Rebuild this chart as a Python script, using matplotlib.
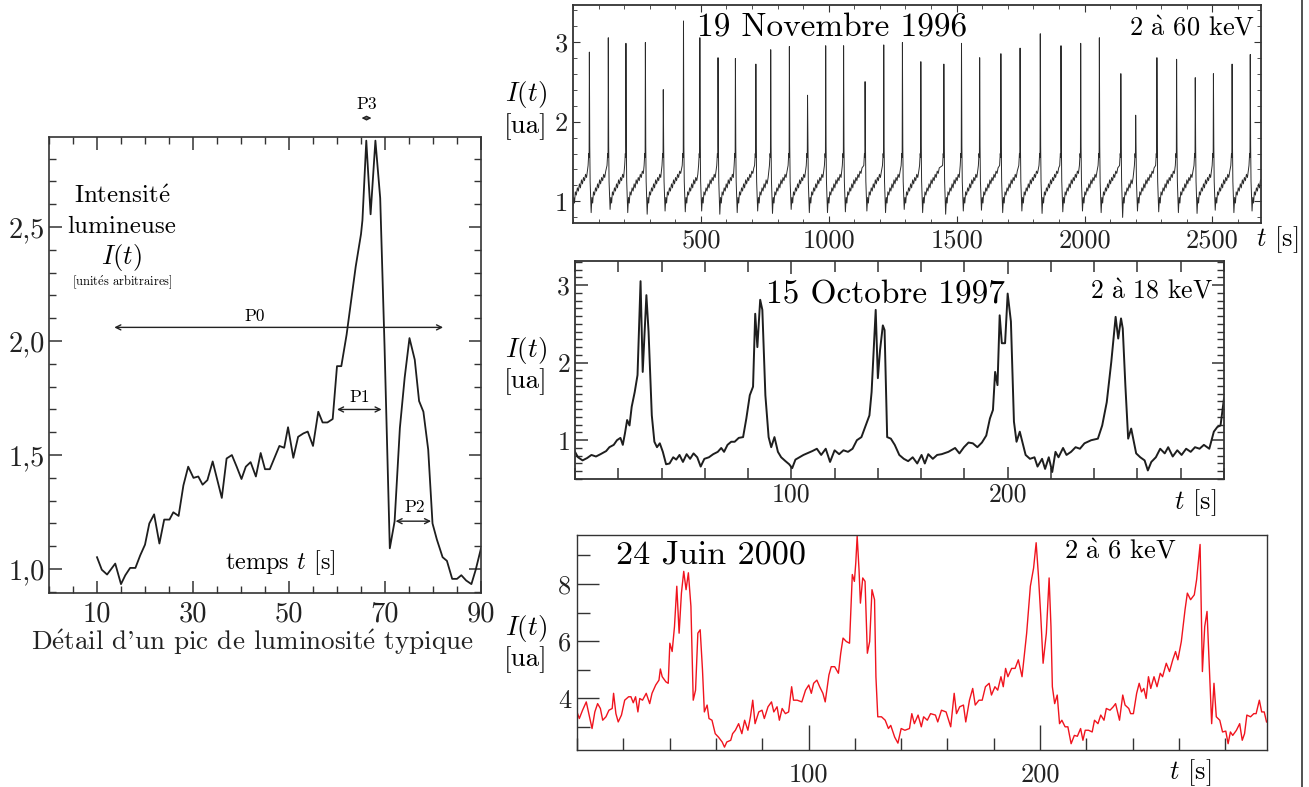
import numpy as np
import matplotlib.pyplot as plt
from matplotlib.ticker import MultipleLocator

plt.rcParams['font.family'] = ['cmr10', 'DejaVu Serif']
plt.rcParams['mathtext.fontset'] = 'cm'
plt.rcParams['axes.unicode_minus'] = False

# --- detail of a typical peak (left panel)
left_t = [10, 11, 12.1, 13.8, 15, 15.9, 16.9, 18, 19, 20, 20.9, 21.9, 23, 24, 25.1, 25.9,
          27, 28, 29, 30.1, 31.1, 32, 33, 34.1, 36, 37, 38.1, 39.1, 40.1, 41, 42, 43.1,
          44.1, 45, 46, 48, 49, 49.8, 50.9, 51.9, 53, 53.9, 55, 56.1, 57, 58, 59.1, 60,
          60.9, 62, 63, 63.9, 65, 65.3, 66.1, 67, 68, 69, 69.9, 71, 72, 73.1, 74.1, 75.1,
          76.2, 77.1, 78, 79, 79.9, 80.8, 82, 82.9, 84, 85, 85.9, 86.9, 88, 88.9, 90]
left_v = [1.052, 0.997, 0.976, 1.024, 0.934, 0.973, 1.005, 1.005, 1.06, 1.107, 1.20, 1.24,
          1.112, 1.217, 1.217, 1.249, 1.233, 1.367, 1.449, 1.40, 1.406, 1.37, 1.39, 1.472,
          1.312, 1.485, 1.50, 1.449, 1.395, 1.449, 1.469, 1.406, 1.509, 1.438, 1.438, 1.54,
          1.532, 1.622, 1.488, 1.58, 1.595, 1.603, 1.54, 1.69, 1.643, 1.643, 1.658, 1.89,
          1.89, 2.028, 2.186, 2.327, 2.469, 2.53, 2.879, 2.556, 2.879, 2.627, 1.98, 1.091,
          1.209, 1.619, 1.84, 2.013, 1.918, 1.737, 1.69, 1.524, 1.20, 1.13, 1.052, 1.036,
          0.957, 0.957, 0.973, 0.95, 0.934, 0.997, 1.091]

# --- 19 Novembre 1996 (one peak per cycle)
nov_peak_t = [64, 138, 207, 283, 353, 432, 496, 567, 635, 715, 773, 846, 917, 988, 1058,
              1142, 1215, 1288, 1360, 1450, 1519, 1590, 1673, 1748, 1827, 1908, 1985, 2058,
              2142, 2200, 2283, 2360, 2433, 2504, 2577, 2648]
nov_peak_v = [2.87, 3.05, 2.98, 2.99, 2.40, 3.26, 3.05, 2.80, 2.79, 2.72, 2.90, 2.94, 2.33,
              2.95, 2.95, 2.50, 2.96, 2.99, 2.75, 2.72, 2.98, 2.80, 2.85, 2.92, 3.10, 2.95,
              2.98, 3.05, 2.60, 2.08, 2.80, 2.78, 2.55, 2.60, 2.72, 2.84]
nov_trough_v = [0.86, 0.90, 0.86, 0.84, 0.88, 0.87, 0.88, 0.84, 0.86, 0.88, 0.85, 0.90,
                0.86, 0.86, 0.87, 0.88, 0.86, 0.90, 0.86, 0.84, 0.88, 0.89, 0.86, 0.88,
                0.85, 0.87, 0.88, 0.86, 0.80, 0.88, 0.87, 0.86, 0.85, 0.89, 0.86, 0.88]
# typical rise after a trough: seconds after the trough, level
rise_dt = [3, 6, 9, 13, 17, 21, 25, 29, 33, 37, 41, 45, 49, 53, 57, 61, 65]
rise_v = [1.05, 0.98, 1.12, 1.08, 1.17, 1.13, 1.22, 1.17, 1.27, 1.22, 1.30, 1.26, 1.34,
          1.30, 1.38, 1.35, 1.42]
pre_peak_v = [1.45, 1.60, 1.55]

# --- 15 Octobre 1997
oct_t = [0.0, 1.4, 3.5, 5.6, 7.6, 9.7, 11.8, 14.4, 15.9, 17.9, 19.4, 21.0, 22.1, 23.1, 24.1,
         25.2, 26.2, 27.6, 28.9, 30.3, 31.3, 33.0, 34.0, 35.5, 36.7, 37.9, 39.2, 40.6, 42.1,
         43.7, 45.4, 46.8, 48.3, 49.9, 51.6, 53.2, 54.8, 56.5, 58.1, 59.8, 61.9, 63.9, 66.0,
         67.6, 68.9, 70.5, 72.2, 73.8, 75.7, 77.7, 79.2, 80.8, 82.3, 83.3, 84.3, 85.6, 86.6,
         88.0, 89.5, 90.7, 92.2, 93.8, 95.3, 97.3, 99.0, 100.4, 101.9, 105.6, 109.7, 111.8,
         113.8, 115.9, 117.9, 120.0, 122.1, 124.1, 126.2, 128.3, 130.3, 132.4, 134.0, 136.1,
         137.1, 139.0, 140.0, 141.0, 142.3, 143.1, 144.3, 146.0, 147.8, 149.9, 152.0, 154.0,
         156.1, 158.2, 160.2, 161.7, 163.3, 165.4, 167.4, 169.5, 172.6, 175.7, 177.7, 179.8,
         181.9, 183.9, 186.0, 188.1, 190.1, 191.8, 193.2, 194.2, 195.3, 196.3, 197.3, 198.8,
         200.0, 201.5, 202.9, 204.1, 205.6, 206.6, 208.3, 210.3, 212.4, 213.8, 215.9, 217.3,
         219.0, 220.6, 222.1, 223.5, 225.6, 227.2, 229.3, 231.4, 233.4, 235.5, 238.6, 241.7,
         243.7, 245.8, 247.9, 249.9, 251.1, 252.4, 253.2, 254.4, 255.7, 257.1, 259.4, 261.3,
         263.3, 264.8, 266.4, 268.5, 270.5, 272.6, 274.2, 276.3, 278.4, 280.4, 282.5, 284.6,
         286.6, 288.7, 290.7, 293.2, 295.3, 296.9, 298.4, 300.0]
oct_v = [0.85, 0.78, 0.74, 0.77, 0.81, 0.79, 0.82, 0.86, 0.91, 0.94, 1.00, 1.03, 0.94, 1.09,
         1.26, 1.19, 1.43, 1.62, 1.84, 3.05, 1.88, 2.87, 2.40, 1.32, 0.98, 0.91, 0.96, 0.85,
         0.69, 0.70, 0.78, 0.75, 0.81, 0.72, 0.82, 0.76, 0.83, 0.78, 0.66, 0.76, 0.78, 0.82,
         0.85, 0.90, 0.85, 0.94, 0.98, 0.98, 1.03, 1.04, 1.28, 1.58, 1.69, 2.63, 2.20, 2.81,
         2.68, 1.58, 1.04, 0.91, 1.04, 0.85, 0.78, 0.73, 0.69, 0.64, 0.75, 0.81, 0.86, 0.89,
         0.81, 0.89, 0.72, 0.87, 0.82, 0.87, 0.85, 0.89, 1.00, 1.04, 1.16, 1.32, 1.62, 2.68,
         1.80, 2.16, 2.48, 2.42, 1.04, 1.02, 0.94, 0.81, 0.76, 0.73, 0.78, 0.70, 0.81, 0.70,
         0.82, 0.76, 0.81, 0.82, 0.85, 0.90, 0.83, 0.91, 0.97, 0.96, 0.91, 0.97, 1.06, 1.28,
         1.39, 1.88, 1.71, 2.61, 2.25, 2.25, 2.89, 2.53, 1.24, 0.98, 1.11, 1.00, 0.81, 0.76,
         0.78, 0.66, 0.76, 0.63, 0.78, 0.59, 0.85, 0.78, 0.90, 0.81, 0.85, 0.91, 0.89, 0.96,
         1.00, 1.02, 1.19, 1.49, 2.01, 2.59, 2.31, 2.57, 2.44, 1.71, 1.02, 1.15, 0.83, 0.78,
         0.74, 0.61, 0.72, 0.78, 0.89, 0.83, 0.91, 0.79, 0.87, 0.81, 0.89, 0.85, 0.91, 0.89,
         0.94, 0.89, 1.11, 1.17, 1.19, 1.54]

# --- 24 Juin 2000
jun_t = [0, 1.0, 2.4, 4.0, 5.7, 6.5, 7.7, 8.9, 10.1, 11.1, 12.5, 13.8, 15.2, 15.8, 16.8, 17.8,
         19.2, 20.6, 22.3, 23.3, 24.3, 25.3, 26.3, 27.1, 28.3, 29.9, 31.4, 32.4, 34.0, 35.4,
         36.0, 36.8, 38.4, 39.4, 40.1, 41.1, 42.1, 43.1, 44.1, 45.1, 46.1, 47.1, 48.1, 49.2,
         50.2, 51.2, 52.2, 53.2, 54.2, 55.0, 56.2, 57.0, 58.3, 59.7, 61.1, 62.7, 63.7, 64.7,
         66.4, 67.2, 68.4, 69.8, 71.2, 72.4, 73.8, 74.9, 75.9, 76.9, 78.5, 79.9, 80.9, 82.5,
         84.0, 85.0, 86.4, 87.4, 88.6, 90.0, 91.4, 92.7, 93.5, 95.1, 97.1, 98.7, 100.1, 101.2,
         102.2, 103.6, 104.8, 106.2, 107.2, 108.8, 109.8, 111.3, 112.9, 113.9, 114.9, 116.3,
         117.7, 118.9, 119.8, 120.4, 121.0, 121.8, 122.4, 123.4, 124.4, 125.4, 126.4, 127.4,
         128.5, 129.1, 129.9, 131.5, 133.1, 134.5, 135.5, 137.2, 138.6, 140.0, 141.6, 143.6,
         144.6, 145.7, 147.3, 148.7, 149.7, 151.3, 152.7, 154.8, 155.8, 157.4, 159.4, 161.4,
         162.9, 163.9, 165.3, 166.9, 167.9, 169.5, 170.9, 172.0, 173.6, 175.0, 176.4, 178.0,
         179.0, 180.5, 181.7, 183.1, 184.1, 185.1, 186.1, 187.7, 189.2, 190.6, 192.2, 194.2,
         195.8, 197.2, 198.3, 199.3, 200.3, 201.3, 202.7, 203.9, 204.7, 205.3, 206.3, 207.4,
         208.4, 209.4, 210.8, 212.0, 213.4, 214.8, 216.1, 217.5, 218.5, 219.5, 220.9, 222.5,
         223.5, 225.0, 226.2, 227.6, 228.6, 230.2, 231.6, 232.6, 234.3, 235.7, 236.7, 238.3,
         239.1, 240.3, 241.7, 242.8, 243.8, 244.8, 245.8, 246.8, 247.8, 249.2, 250.5, 251.9,
         252.9, 254.5, 255.9, 257.3, 258.5, 259.5, 261.0, 262.6, 263.6, 265.0, 266.6, 267.6,
         269.1, 270.1, 271.1, 272.1, 273.1, 274.1, 275.1, 276.1, 277.6, 278.8, 280.2, 281.2,
         282.2, 283.2, 284.8, 286.2, 287.3, 288.3, 289.3, 290.9, 292.3, 293.3, 294.7, 295.7,
         296.8, 297.8]
jun_v = [3.53, 3.30, 3.59, 3.88, 3.24, 2.95, 3.53, 3.82, 3.65, 3.24, 3.36, 3.59, 3.65, 4.18,
         3.47, 3.18, 3.42, 3.94, 4.06, 4.06, 3.85, 4.06, 3.53, 4.00, 3.94, 4.18, 3.82, 4.18,
         4.47, 4.64, 5.03, 4.76, 4.58, 4.53, 5.93, 5.64, 6.51, 7.92, 6.28, 7.68, 8.44, 7.80,
         8.39, 7.22, 3.94, 4.29, 6.28, 6.40, 4.99, 3.53, 3.77, 3.30, 3.24, 2.77, 2.65, 2.48,
         2.30, 2.48, 2.54, 2.77, 2.89, 3.12, 2.77, 3.24, 2.89, 3.36, 3.94, 3.12, 3.53, 3.59,
         3.30, 3.71, 3.88, 3.53, 3.71, 3.24, 3.65, 3.47, 3.53, 4.41, 3.94, 3.94, 3.88, 4.29,
         4.47, 4.18, 4.53, 4.64, 4.41, 4.18, 3.88, 4.82, 5.11, 5.11, 4.88, 5.58, 6.11, 5.99,
         5.93, 8.33, 8.09, 8.74, 9.67, 8.50, 7.33, 8.21, 8.09, 5.58, 5.99, 7.80, 7.45, 4.76,
         3.36, 3.36, 3.24, 2.95, 3.06, 2.65, 2.44, 2.95, 2.89, 2.95, 3.47, 3.12, 3.42, 3.01,
         3.36, 3.24, 3.47, 3.42, 3.18, 3.59, 3.53, 3.01, 4.18, 3.47, 3.71, 3.77, 3.18, 3.94,
         4.35, 3.77, 3.94, 3.94, 4.41, 4.53, 4.12, 4.41, 4.29, 4.76, 4.41, 5.05, 4.76, 5.05,
         5.05, 5.35, 4.76, 6.28, 7.92, 8.56, 9.44, 8.27, 6.87, 5.23, 6.28, 8.21, 6.51, 4.41,
         3.82, 4.12, 3.12, 3.24, 3.01, 3.01, 2.42, 2.71, 2.68, 2.95, 2.54, 2.89, 2.89, 2.83,
         3.24, 3.12, 3.42, 3.24, 3.65, 3.59, 3.71, 3.82, 3.24, 4.12, 3.77, 3.65, 3.47, 3.47,
         4.18, 4.53, 4.23, 4.35, 4.00, 4.76, 4.35, 4.76, 4.41, 4.88, 4.76, 5.23, 4.94, 5.35,
         5.64, 5.35, 5.99, 7.10, 7.68, 7.45, 7.62, 8.15, 9.38, 4.94, 6.51, 7.04, 5.11, 3.12,
         4.53, 3.36, 3.24, 2.83, 2.86, 2.42, 2.83, 2.71, 2.89, 3.12, 2.54, 2.77, 3.42, 3.36,
         3.47, 3.47, 3.94, 3.53, 3.53, 3.18]

W, H = 1309, 787
fig = plt.figure(figsize=(W / 100, H / 100), dpi=100)
ink = '#1e1e1e'


def tex(s):
    # cmr10 has no accented letters: build them with mathtext accents
    return s.replace('é', r'$\acute{\mathrm{e}}$').replace('à', r'$\grave{\mathrm{a}}$')


def box(x0, y0, x1, y1):
    # pixel box (top-left origin) -> figure fraction
    return [x0 / W, 1 - y1 / H, (x1 - x0) / W, (y1 - y0) / H]


def style(ax, lw=1.2):
    for s in ax.spines.values():
        s.set_linewidth(lw)
        s.set_color('#333333')
    ax.tick_params(which='both', direction='in', colors='#333333', labelcolor='#222222')


# ---------------- left: detail of one peak
ax1 = fig.add_axes(box(49, 137, 481, 593))
ax1.plot(left_t, left_v, color=ink, lw=1.3)
ax1.set_xlim(0, 90)
ax1.set_ylim(0.895, 2.895)
ax1.set_xticks([10, 30, 50, 70, 90])
ax1.xaxis.set_minor_locator(MultipleLocator(5))
ax1.set_yticks([1.0, 1.5, 2.0, 2.5], labels=['1,0', '1,5', '2,0', '2,5'])
ax1.yaxis.set_minor_locator(MultipleLocator(0.1))
style(ax1)
ax1.tick_params(which='both', top=True, right=True, labelsize=20.5)
ax1.tick_params(which='major', length=9, width=1.1)
ax1.tick_params(which='minor', length=5, width=1.0)
ax1.tick_params(axis='x', pad=6)
ax1.tick_params(axis='y', pad=3)
ax1.set_xlabel(tex("Détail d'un pic de luminosité typique"), fontsize=19.5, labelpad=0,
               color='#222222')
ax1.xaxis.set_label_coords(0.472, -0.075)

ax1.text(15.2, 2.635, tex('Intensité'), fontsize=18, ha='center', va='center')
ax1.text(15.2, 2.50, 'lumineuse', fontsize=18, ha='center', va='center')
ax1.text(15.2, 2.367, r'$I(t)$', fontsize=19, ha='center', va='center')
ax1.text(15.2, 2.257, tex('[unités arbitraires]'), fontsize=9, ha='center', va='center')
ax1.text(48.1, 1.028, r'temps $t$ [s]', fontsize=17.5, ha='center', va='center')

arrow = dict(arrowstyle='<->', lw=1.0, color='#222222', shrinkA=0, shrinkB=0, mutation_scale=9)
ax1.annotate('', xy=(13.6, 2.06), xytext=(82.1, 2.06), arrowprops=arrow)
ax1.text(42.9, 2.107, 'P0', fontsize=12.5, ha='center', va='center')
ax1.annotate('', xy=(60.0, 1.70), xytext=(69.3, 1.70), arrowprops=arrow)
ax1.text(64.7, 1.755, 'P1', fontsize=12.5, ha='center', va='center')
ax1.annotate('', xy=(72.2, 1.21), xytext=(79.6, 1.21), arrowprops=arrow)
ax1.text(76.2, 1.27, 'P2', fontsize=12.5, ha='center', va='center')
ax1.annotate('', xy=(65.1, 2.978), xytext=(67.2, 2.978), arrowprops=dict(arrow, mutation_scale=6),
             annotation_clip=False)
ax1.text(66.1, 3.04, 'P3', fontsize=12.5, ha='center', va='center', clip_on=False)

# ---------------- top right: 19 Novembre 1996
nov_t, nov_v = [0.0], [0.95]
start_t, start_v = 0.0, 0.95
for i, (tp, vp) in enumerate(zip(nov_peak_t, nov_peak_v)):
    for dt, dv in zip(rise_dt, rise_v):
        if start_t + dt < tp - 7:
            nov_t.append(start_t + dt)
            nov_v.append(dv)
    nov_t += [tp - 5, tp - 2.5, tp - 1, tp, tp + 1.5, tp + 3]
    nov_v += [pre_peak_v[0], pre_peak_v[1], pre_peak_v[2], vp, 1.7, 1.25]
    start_t, start_v = tp + 7, nov_trough_v[i]
    nov_t.append(start_t)
    nov_v.append(start_v)
for dt, dv in zip(rise_dt, rise_v):
    if start_t + dt <= 2690:
        nov_t.append(start_t + dt)
        nov_v.append(dv)

ax2 = fig.add_axes(box(573, 5, 1261, 223))
ax2.plot(nov_t, nov_v, color='#2a2a2a', lw=0.7)
ax2.set_xlim(0, 2690)
ax2.set_ylim(0.73, 3.46)
ax2.set_xticks([500, 1000, 1500, 2000, 2500])
ax2.xaxis.set_minor_locator(MultipleLocator(100))
ax2.set_yticks([1, 2, 3])
ax2.yaxis.set_minor_locator(MultipleLocator(0.2))
style(ax2, lw=1.3)
ax2.tick_params(which='both', top=True, right=True, labelsize=19)
ax2.tick_params(which='major', length=5, width=0.8)
ax2.tick_params(which='minor', length=3, width=0.6)
ax2.tick_params(axis='x', pad=4)
ax2.text(0.376, 0.895, '19 Novembre 1996', transform=ax2.transAxes, fontsize=24,
         ha='center', va='center')
ax2.text(0.992, 0.895, tex('2 à 60 keV'), transform=ax2.transAxes, fontsize=19,
         ha='right', va='center')

# ---------------- middle right: 15 Octobre 1997
ax3 = fig.add_axes(box(575, 261, 1224, 479))
ax3.plot(oct_t, oct_v, color=ink, lw=1.4)
ax3.set_xlim(0, 300)
ax3.set_ylim(0.5, 3.31)
ax3.set_xticks([100, 200])
ax3.xaxis.set_minor_locator(MultipleLocator(20))
ax3.set_yticks([1, 2, 3])
ax3.yaxis.set_minor_locator(MultipleLocator(0.1))
style(ax3, lw=1.3)
ax3.tick_params(which='both', top=True, right=True, labelsize=18.5)
ax3.tick_params(which='major', length=9, width=1.1)
ax3.tick_params(axis='x', which='minor', length=8, width=1.1)
ax3.tick_params(axis='y', which='minor', length=5, width=1.0)
ax3.tick_params(axis='x', pad=3)
ax3.text(0.478, 0.845, '15 Octobre 1997', transform=ax3.transAxes, fontsize=24,
         ha='center', va='center')
ax3.text(0.982, 0.86, tex('2 à 18 keV'), transform=ax3.transAxes, fontsize=18.5,
         ha='right', va='center')

# ---------------- bottom right: 24 Juin 2000
ax4 = fig.add_axes(box(577, 535, 1267, 750))
ax4.plot(jun_t, jun_v, color='#f0141e', lw=1.0)
ax4.set_xlim(0, 298)
ax4.set_ylim(2.2, 9.71)
ax4.set_xticks([100, 200])
ax4.xaxis.set_minor_locator(MultipleLocator(20))
ax4.set_yticks([4, 6, 8])
ax4.yaxis.set_minor_locator(MultipleLocator(1))
style(ax4, lw=1.0)
ax4.tick_params(which='both', top=False, right=False, labelsize=19)
ax4.tick_params(which='major', length=16, width=1.0)
ax4.tick_params(which='minor', length=9, width=1.0)
ax4.tick_params(axis='x', which='major', length=18)
ax4.tick_params(axis='x', pad=9)
ax4.tick_params(axis='y', pad=4)
ax4.text(0.194, 0.905, '24 Juin 2000', transform=ax4.transAxes, fontsize=24.5,
         ha='center', va='center')
ax4.text(0.787, 0.922, tex('2 à 6 keV'), transform=ax4.transAxes, fontsize=19,
         ha='center', va='center')

# axis names of the three light curves
for y_it, y_ua in [(95, 127), (350, 382), (628, 660)]:
    fig.text(526 / W, 1 - y_it / H, r'$I(t)$', fontsize=19.5, ha='center', va='center')
    fig.text(526 / W, 1 - y_ua / H, '[ua]', fontsize=19.5, ha='center', va='center')
for x_t, y_t in [(1277, 240), (1195, 503), (1190, 773)]:
    fig.text(x_t / W, 1 - y_t / H, r'$t$ [s]', fontsize=19, ha='center', va='center')

# border line of the page on the right
fig.add_artist(plt.Line2D([1302 / W, 1302 / W], [0, 1], color='#333333', lw=1.2))

fig.savefig('out.png', dpi=100, facecolor='white')
